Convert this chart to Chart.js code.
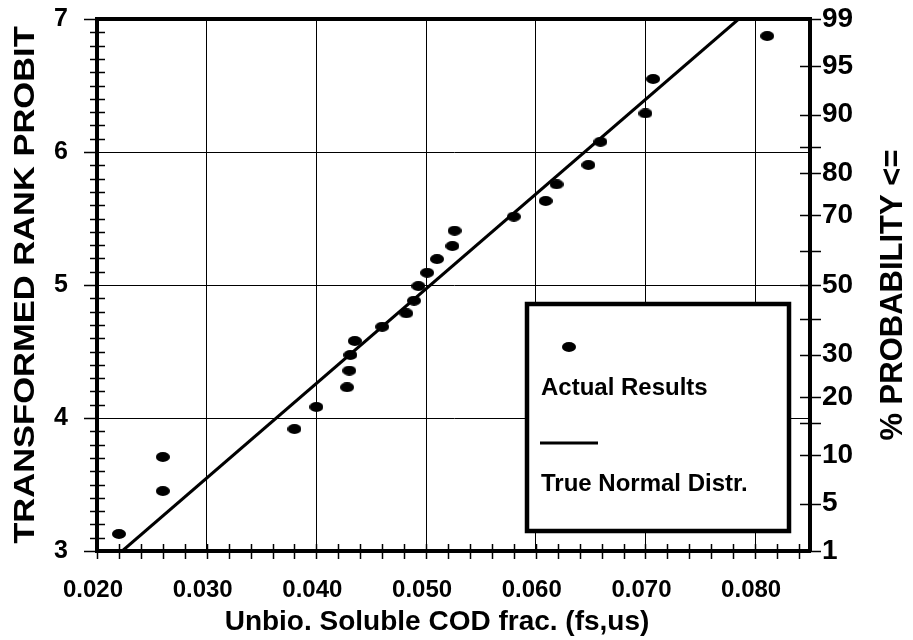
<!DOCTYPE html>
<html>
<head>
<meta charset="utf-8">
<title>Transformed rank probit</title>
<script src="https://cdn.jsdelivr.net/npm/chart.js@4.4.0/dist/chart.umd.min.js"></script>
<style>
  html, body { margin: 0; padding: 0; background: #fff; }
</style>
</head>
<body>
<canvas id="chart" width="913" height="640"></canvas>
<script>
// measured points: fs,us fraction vs transformed rank probit
const fsValues = [0.0220, 0.0260, 0.0260, 0.0380, 0.0400, 0.0428, 0.0430, 0.0431, 0.0435,
  0.0460, 0.0482, 0.0489, 0.0493, 0.0501, 0.0510, 0.0524, 0.0526, 0.0580, 0.0609,
  0.0619, 0.0648, 0.0659, 0.0700, 0.0707, 0.0811];
const probitValues = [3.128, 3.451, 3.707, 3.917, 4.083, 4.231, 4.356, 4.474, 4.579,
  4.686, 4.787, 4.882, 4.992, 5.092, 5.195, 5.293, 5.408, 5.514, 5.632,
  5.757, 5.902, 6.077, 6.290, 6.549, 6.872];

// fitted normal line
const normalX = [0.0223, 0.0785];
const normalY = [3, 7];

const xTicks = [0.020, 0.030, 0.040, 0.050, 0.060, 0.070, 0.080];
const probTicks = [1, 5, 10, 15, 20, 30, 40, 50, 60, 70, 80, 85, 90, 95, 99];
const probLabels = [1, 5, 10, 20, 30, 50, 70, 80, 90, 95, 99];

const FONT = "'Liberation Sans', Arial, sans-serif";

// Acklam's inverse normal approximation, for the % probability axis
function invNorm(p) {
  const a = [-3.969683028665376e+01, 2.209460984245205e+02, -2.759285104469687e+02,
    1.383577518672690e+02, -3.066479806614716e+01, 2.506628277459239e+00];
  const b = [-5.447609879822406e+01, 1.615858368580409e+02, -1.556989798598866e+02,
    6.680131188771972e+01, -1.328068155288572e+01];
  const c = [-7.784894002430293e-03, -3.223964580411365e-01, -2.400758277161838e+00,
    -2.549732539343734e+00, 4.374664141464968e+00, 2.938163982698783e+00];
  const d = [7.784695709041462e-03, 3.224671290700398e-01, 2.445134137142996e+00,
    3.754408661907416e+00];
  const pl = 0.02425;
  let q, r;
  if (p < pl) {
    q = Math.sqrt(-2 * Math.log(p));
    return (((((c[0]*q+c[1])*q+c[2])*q+c[3])*q+c[4])*q+c[5]) / ((((d[0]*q+d[1])*q+d[2])*q+d[3])*q+1);
  }
  if (p > 1 - pl) {
    q = Math.sqrt(-2 * Math.log(1 - p));
    return -(((((c[0]*q+c[1])*q+c[2])*q+c[3])*q+c[4])*q+c[5]) / ((((d[0]*q+d[1])*q+d[2])*q+d[3])*q+1);
  }
  q = p - 0.5;
  r = q * q;
  return (((((a[0]*r+a[1])*r+a[2])*r+a[3])*r+a[4])*r+a[5])*q / (((((b[0]*r+b[1])*r+b[2])*r+b[3])*r+b[4])*r+1);
}

function makeDot(w, h) {
  const c = document.createElement("canvas");
  c.width = w;
  c.height = h;
  const g = c.getContext("2d");
  g.fillStyle = "#000";
  g.beginPath();
  g.ellipse(w / 2, h / 2, w / 2, h / 2, 0, 0, Math.PI * 2);
  g.fill();
  return c;
}
const dot = makeDot(14, 10);

function drawText(ctx, text, x, y, size, rot, sx) {
  ctx.save();
  ctx.translate(x, y);
  ctx.rotate(rot);
  ctx.scale(sx, 1);
  ctx.font = "bold " + size + "px " + FONT;
  ctx.fillStyle = "#000";
  ctx.textAlign = "center";
  ctx.textBaseline = "middle";
  ctx.fillText(text, 0, 0);
  ctx.restore();
}

// keep the plot frame where the reference has it
function fixVertical(width) {
  return s => {
    s.width = width;
    s.paddingTop = 0;
    s.paddingBottom = 0;
  };
}

const decor = {
  id: "decor",
  afterDatasetsDraw(chart) {
    const ctx = chart.ctx;
    // legend box
    ctx.save();
    ctx.fillStyle = "#fff";
    ctx.fillRect(527, 304, 262, 227);
    ctx.strokeStyle = "#000";
    ctx.lineWidth = 4.5;
    ctx.strokeRect(527, 304, 262, 227);
    ctx.drawImage(dot, 569 - 7, 347 - 5);
    ctx.lineWidth = 3;
    ctx.beginPath();
    ctx.moveTo(540, 443);
    ctx.lineTo(598, 443);
    ctx.stroke();
    ctx.font = "bold 24px " + FONT;
    ctx.fillStyle = "#000";
    ctx.textBaseline = "middle";
    ctx.fillText("Actual Results", 541, 388);
    ctx.fillText("True Normal Distr.", 541, 484);
    ctx.restore();
  },
  afterDraw(chart) {
    const { ctx, chartArea: a, scales: { x, y, y2 } } = chart;
    ctx.save();
    ctx.strokeStyle = "#000";
    ctx.lineWidth = 1.5;
    ctx.beginPath();
    for (let v = 20; v <= 84; v += 2) {
      const px = Math.round(x.getPixelForValue(v / 1000)) + 0.5;
      ctx.moveTo(px, a.bottom - 7);
      ctx.lineTo(px, a.bottom + 8);
    }
    for (let i = 30; i <= 70; i++) {
      const py = Math.round(y.getPixelForValue(i / 10)) + 0.5;
      if (i % 10 === 0) {
        ctx.moveTo(a.left - 13, py);
        ctx.lineTo(a.left, py);
      } else {
        ctx.moveTo(a.left - 7, py);
        ctx.lineTo(a.left + 8, py);
      }
    }
    y2.ticks.forEach(t => {
      const py = Math.round(y2.getPixelForValue(t.value)) + 0.5;
      ctx.moveTo(a.right - 10, py);
      ctx.lineTo(a.right + 11, py);
    });
    ctx.stroke();
    // top frame
    ctx.lineWidth = 4;
    ctx.beginPath();
    ctx.moveTo(a.left - 2, a.top);
    ctx.lineTo(a.right + 2, a.top);
    ctx.stroke();
    ctx.restore();

    drawText(ctx, "TRANSFORMED RANK PROBIT", 26, 285, 30, -Math.PI / 2, 1.15);
    drawText(ctx, "% PROBABILITY <=", 893, 295, 31, -Math.PI / 2, 1);
    drawText(ctx, "Unbio. Soluble COD frac. (fs,us)", 437, 622, 28, 0, 1);
  }
};

new Chart(document.getElementById("chart"), {
  type: "scatter",
  data: {
    datasets: [
      {
        label: "Actual Results",
        data: fsValues.map((v, i) => ({ x: v, y: probitValues[i] })),
        pointStyle: dot,
        pointRadius: 5,
        backgroundColor: "#000",
        borderColor: "#000"
      },
      {
        label: "True Normal Distr.",
        data: normalX.map((v, i) => ({ x: v, y: normalY[i] })),
        showLine: true,
        borderColor: "#000",
        borderWidth: 3,
        pointRadius: 0
      }
    ]
  },
  options: {
    responsive: false,
    animation: false,
    events: [],
    layout: { padding: { top: 19, left: 0, right: 0, bottom: 0 } },
    plugins: {
      legend: { display: false },
      tooltip: { enabled: false }
    },
    scales: {
      x: {
        type: "linear",
        min: 0.02,
        max: 0.085,
        afterBuildTicks: s => { s.ticks = xTicks.map(v => ({ value: v })); },
        afterFit: s => {
          s.height = 89;
          s.paddingLeft = 0;
          s.paddingRight = 0;
        },
        ticks: {
          callback: v => v.toFixed(3),
          color: "#000",
          font: { family: FONT, size: 24, weight: "bold" },
          padding: 25,
          labelOffset: -4,
          maxRotation: 0,
          autoSkip: false
        },
        grid: { color: "#000", lineWidth: 1, drawTicks: false },
        border: { color: "#000", width: 4 }
      },
      y: {
        type: "linear",
        position: "left",
        min: 3,
        max: 7,
        afterFit: fixVertical(97),
        ticks: {
          stepSize: 1,
          color: "#000",
          font: { family: FONT, size: 25, weight: "bold" },
          padding: 29
        },
        grid: { color: "#000", lineWidth: 1, drawTicks: false },
        border: { color: "#000", width: 4 }
      },
      y2: {
        type: "linear",
        position: "right",
        min: 3,
        max: 7,
        afterBuildTicks: s => {
          s.ticks = probTicks.map(p => ({
            value: Math.min(7, Math.max(3, 5 + invNorm(p / 100)))
          }));
        },
        afterFit: fixVertical(103),
        ticks: {
          callback: (v, i) => probLabels.includes(probTicks[i]) ? String(probTicks[i]) : "",
          color: "#000",
          font: { family: FONT, size: 28, weight: "bold" },
          padding: 12,
          autoSkip: false
        },
        grid: { drawOnChartArea: false, drawTicks: false },
        border: { color: "#000", width: 4 }
      }
    }
  },
  plugins: [decor]
});
</script>
</body>
</html>
